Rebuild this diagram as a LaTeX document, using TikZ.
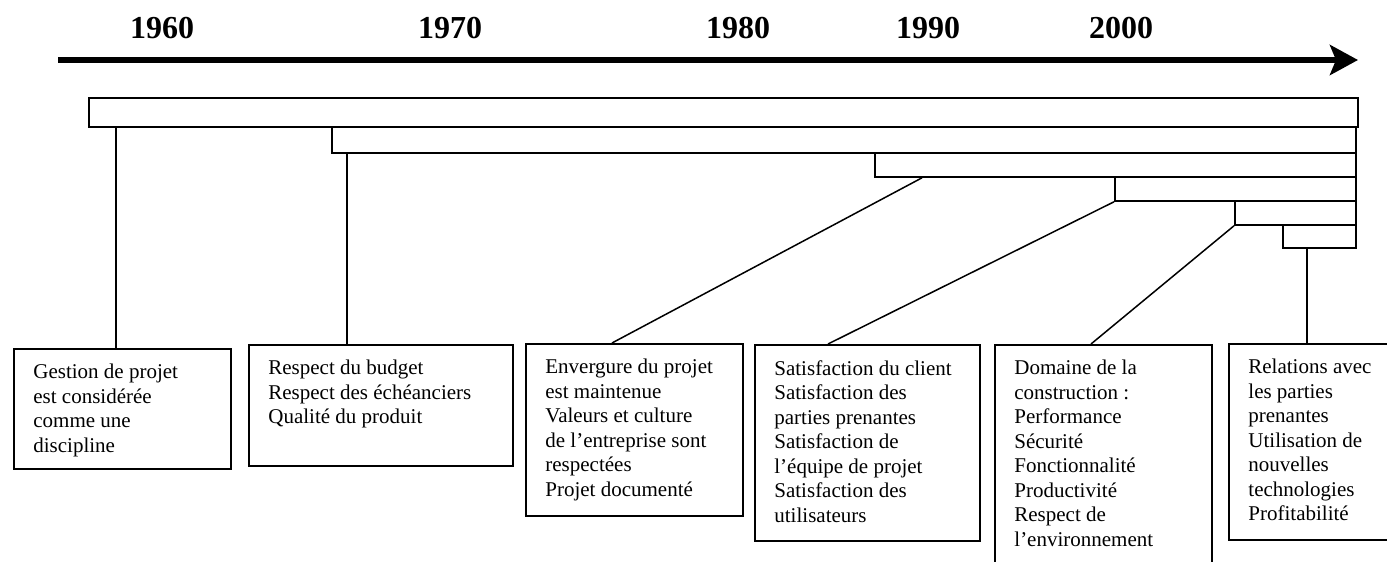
\documentclass[tikz,border=0pt]{standalone}
\usepackage{fontspec}
\setmainfont{Liberation Serif}
\usepackage{tikz}
\usetikzlibrary{arrows.meta}

\begin{document}
\begin{tikzpicture}[x=1pt, y=-1pt]
		\useasboundingbox (0,0) rectangle (693.5,281);
		\clip (0,0) rectangle (693.5,281);
		\begin{scope}[every node/.style = {font=\fontsize{16}{18}\selectfont\bfseries}]
			\node (y1960) at (81,14) {1960};
			\node (y1970) at (225,14) {1970};
			\node (y1980) at (369,14) {1980};
			\node (y1990) at (464,14) {1990};
			\node (y2000) at (560.5,14) {2000};
		\end{scope}
		\coordinate (tstart) at (29,30);
		\coordinate (tend) at (679,30);
		\draw[line width=3pt, -{Stealth[length=14pt, width=15pt, inset=3pt]}] (tstart) -- (tend);
		\begin{scope}[every node/.style = {draw, line width=0.9pt, anchor=north west, inner sep=0pt}]
			\node[minimum width=634.5pt, minimum height=14.5pt] (bar1) at (44,48.5) {};
			\node[minimum width=512pt, minimum height=13pt] (bar2) at (165.5,63) {};
			\node[minimum width=240.5pt, minimum height=12pt] (bar3) at (437,76) {};
			\node[minimum width=120.5pt, minimum height=12pt] (bar4) at (557,88) {};
			\node[minimum width=60.5pt, minimum height=12pt] (bar5) at (617,100) {};
			\node[minimum width=36.5pt, minimum height=11.5pt] (bar6) at (641,112) {};
		\end{scope}
		\begin{scope}[every node/.style = {draw, line width=1pt, anchor=north west, inner sep=0pt}]
			\node[minimum width=108.5pt, minimum height=60pt] (box1) at (6.5,174) {};
			\node[minimum width=132pt, minimum height=60.5pt] (box2) at (124,172) {};
			\node[minimum width=108.5pt, minimum height=86pt] (box3) at (262.5,171.5) {};
			\node[minimum width=112.5pt, minimum height=98pt] (box4) at (377,172) {};
			\node[minimum width=108.5pt, minimum height=130pt] (box5) at (497,172) {};
			\node[minimum width=100pt, minimum height=98pt] (box6) at (614,171.5) {};
		\end{scope}
		\begin{scope}[every node/.style = {anchor=north west, inner sep=0pt, align=left, font=\fontsize{10.5}{12.25}\selectfont}]
			\node (txt1) at ([xshift=10pt, yshift=-8pt]box1.north west) {Gestion de projet\\est considérée\\comme une\\discipline};
			\node (txt2) at ([xshift=10pt, yshift=-8pt]box2.north west) {Respect du budget\\Respect des échéanciers\\Qualité du produit};
			\node (txt3) at ([xshift=10pt, yshift=-8pt]box3.north west) {Envergure du projet\\est maintenue\\Valeurs et culture\\de l’entreprise sont\\respectées\\Projet documenté};
			\node (txt4) at ([xshift=10pt, yshift=-8pt]box4.north west) {Satisfaction du client\\Satisfaction des\\parties prenantes\\Satisfaction de\\l’équipe de projet\\Satisfaction des\\utilisateurs};
			\node (txt5) at ([xshift=10pt, yshift=-8pt]box5.north west) {Domaine de la\\construction :\\Performance\\Sécurité\\Fonctionnalité\\Productivité\\Respect de\\l’environnement};
			\node (txt6) at ([xshift=10pt, yshift=-8pt]box6.north west) {Relations avec\\les parties\\prenantes\\Utilisation de\\nouvelles\\technologies\\Profitabilité};
		\end{scope}
		\begin{scope}[line width=0.75pt]
			\draw ([xshift=-3.25pt]box1.north |- bar1.south) -- ([xshift=-3.25pt]box1.north);
			\draw ([xshift=-17pt]box2.north |- bar2.south) -- ([xshift=-17pt]box2.north);
			\draw ([xshift=24pt]bar3.south west) -- ([xshift=-11.25pt]box3.north);
			\draw (bar4.south west) -- ([xshift=-19.75pt]box4.north);
			\draw (bar5.south west) -- ([xshift=-6.25pt]box5.north);
			\draw ([xshift=-11pt]box6.north |- bar6.south) -- ([xshift=-11pt]box6.north);
		\end{scope}
	\end{tikzpicture}
\end{document}
